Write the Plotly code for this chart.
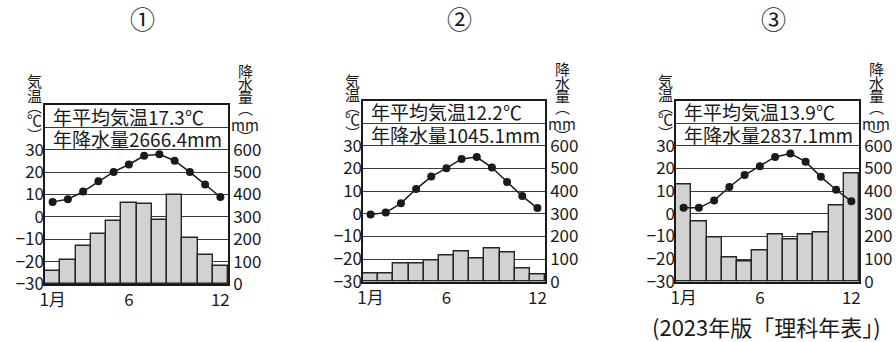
import plotly.graph_objects as go

# ---------------- data ----------------
months = list(range(1, 13))
month_ticks = [1, 6, 12]
month_labels = ["1月", "6", "12"]
temp_ticks = [-30, -20, -10, 0, 10, 20, 30]
temp_labels = ["−30", "−20", "−10", "0", "10", "20", "30"]
precip_ticks = [0, 100, 200, 300, 400, 500, 600, 700]
precip_labels = ["0", "100", "200", "300", "400", "500", "600", ""]

panel_names = ["①", "②", "③"]
mean_temps = [17.3, 12.2, 13.9]
total_precips = [2666.4, 1045.1, 2837.1]

temp1 = [6.7, 7.9, 11.3, 15.9, 20.1, 23.4, 27.3, 28.0, 25.1, 20.0, 14.5, 8.9]
precip1 = [58, 106, 172, 224, 280, 360, 356, 284, 398, 206, 128, 80]

temp2 = [-0.3, 0.5, 4.6, 10.9, 16.4, 20.1, 24.2, 25.0, 20.4, 14.0, 7.8, 2.5]
precip2 = [38, 38, 79, 82, 94, 116, 132, 101, 147, 128, 57, 33]

temp3 = [2.6, 2.6, 5.9, 11.8, 17.1, 21.0, 25.1, 26.6, 23.0, 16.3, 10.6, 5.5]
precip3 = [431, 265, 196, 106, 91, 137, 209, 185, 209, 216, 335, 476]

temps = [temp1, temp2, temp3]
precips = [precip1, precip2, precip3]
temp_title = ["気", "温", "︵", "℃", "︶"]
precip_title = ["降", "水", "量", "︵", "mm", "︶"]
source_text = "(2023年版「理科年表」)"

# ---------------- layout helpers ----------------
W, H = 896, 342
FONT = "Noto Sans CJK JP"
INK = "#1a1a1a"

# plot-area pixel boxes: left, right, top, bottom
boxes = [(45, 228, 105, 284), (363, 545, 100.5, 281.7), (676, 859, 100.5, 281.7)]
# vertical centres of the stacked title glyphs (pixels from top)
temp_title_y = [81, 95, 106, 119.5, 134]
precip_title_y = [70, 83.5, 96.5, 107.5, 124, 136.5]


def px(x):
    return x / W


def py(y):
    return 1 - y / H


fig = go.Figure()
layout = dict(
    width=W, height=H,
    margin=dict(l=0, r=0, t=0, b=0, autoexpand=False),
    paper_bgcolor="white", plot_bgcolor="white",
    showlegend=False,
    bargap=0,
    font=dict(family=FONT, color=INK),
)
annotations = []

for i in range(3):
    L, R, T, B = boxes[i]
    xa = "x" if i == 0 else f"x{i + 1}"
    yb = "y" if i == 0 else f"y{2 * i + 1}"
    yt = f"y{2 * i + 2}"
    xkey = "xaxis" if i == 0 else f"xaxis{i + 1}"
    ybkey = "yaxis" if i == 0 else f"yaxis{2 * i + 1}"
    ytkey = f"yaxis{2 * i + 2}"

    fig.add_trace(go.Bar(
        x=months, y=precips[i], xaxis=xa, yaxis=yb, width=1,
        marker=dict(color="#d2d2d2", line=dict(color="#262626", width=1.4)),
    ))
    fig.add_trace(go.Scatter(
        x=months, y=temps[i], xaxis=xa, yaxis=yt, mode="lines+markers",
        line=dict(color=INK, width=1.5),
        marker=dict(color=INK, size=8),
    ))

    layout[xkey] = dict(
        domain=[px(L), px(R)], range=[0.5, 12.5], anchor=yb,
        tickvals=month_ticks, ticktext=month_labels, automargin=False,
        showline=True, mirror=True, linecolor=INK, linewidth=1.6,
        showgrid=False, zeroline=False, ticks="",
        tickfont=dict(size=17, family=FONT, color=INK),
    )
    layout[ybkey] = dict(
        domain=[py(B), py(T)], range=[0, 800], anchor=xa, side="right",
        tickvals=precip_ticks, ticktext=precip_labels, automargin=False,
        showgrid=True, gridcolor="#3a3a3a", gridwidth=1,
        showline=True, mirror=True, linecolor=INK, linewidth=1.6,
        zeroline=False, ticks="",
        tickfont=dict(size=17, family=FONT, color=INK),
    )
    layout[ytkey] = dict(
        overlaying=yb, anchor=xa, side="left", range=[-30, 50],
        tickvals=temp_ticks, ticktext=temp_labels, automargin=False,
        showgrid=False, zeroline=False, showline=False, ticks="",
        tickfont=dict(size=17, family=FONT, color=INK),
    )

    # header box texts
    xdom = "x domain" if i == 0 else f"x{i + 1} domain"
    header_lines = [f"年平均気温{mean_temps[i]:.1f}℃", f"年降水量{total_precips[i]:.1f}mm"]
    for txt, yy in zip(header_lines, [45, 35]):
        annotations.append(dict(
            text=txt, xref=xdom, yref=yt, x=0.035, y=yy,
            xanchor="left", yanchor="middle", showarrow=False,
            font=dict(size=19, family=FONT, color=INK),
        ))

    # circled panel number
    annotations.append(dict(
        text=panel_names[i], xref="paper", yref="paper",
        x=px((L + R) / 2 + 6), y=py(18), xanchor="center", yanchor="middle",
        showarrow=False, font=dict(size=25, family=FONT, color=INK),
    ))

    # vertical axis titles (stacked glyphs)
    dy = 0 if i == 0 else -1
    for ch, yy in zip(temp_title, temp_title_y):
        annotations.append(dict(
            text=ch, xref="paper", yref="paper", x=px(L - 10.5), y=py(yy + dy),
            xanchor="center", yanchor="middle", showarrow=False,
            font=dict(size=15, family=FONT, color=INK),
        ))
    for ch, yy in zip(precip_title, precip_title_y):
        annotations.append(dict(
            text=ch, xref="paper", yref="paper", x=px(R + 17), y=py(yy + dy),
            xanchor="center", yanchor="middle", showarrow=False,
            font=dict(size=15, family=FONT, color=INK),
        ))

annotations.append(dict(
    text=source_text, xref="paper", yref="paper", x=px(650), y=py(326),
    xanchor="left", yanchor="middle", showarrow=False,
    font=dict(size=22, family=FONT, color=INK),
))

layout["annotations"] = annotations
fig.update_layout(**layout)
fig.write_html("out.html")
